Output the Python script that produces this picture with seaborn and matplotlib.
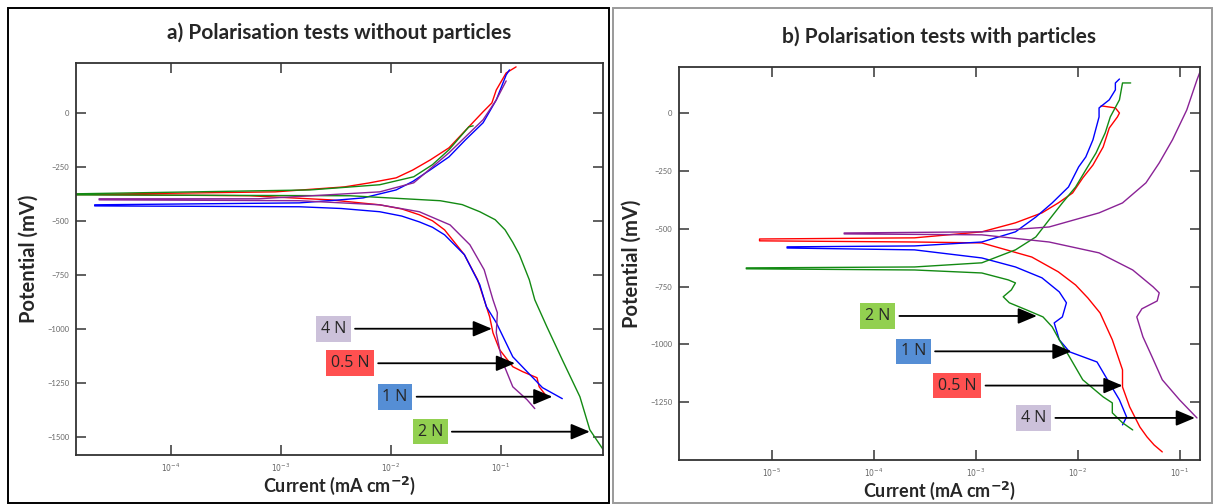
import numpy as np
import pandas as pd
import matplotlib as mpl
mpl.use('Agg')
import matplotlib.pyplot as plt
from matplotlib.patches import Rectangle
from matplotlib.ticker import FixedLocator, FixedFormatter, NullLocator
import seaborn as sns

sns.set_style('ticks')
plt.rcParams['font.family'] = ['Lato', 'DejaVu Sans']

# ---- data (log10 of current in mA cm-2, potential in mV) ----
# a) without particles
a_05N_logi = [-0.58, -0.65, -0.67, -0.80, -0.89, -1.01, -1.07, -1.10, -1.15, -1.21, -1.33, -1.51, -1.62, -1.74,
              -1.90, -2.10, -2.55, -3.28, -4.86, -4.39, -3.05, -2.42, -2.20, -1.95, -1.80, -1.64, -1.47,
              -1.29, -1.16, -1.08, -1.04, -0.95, -0.86]
a_05N_mv = [-1315, -1269, -1227, -1199, -1176, -1097, -1019, -945, -866, -773, -657, -542, -500, -472,
            -445, -426, -403, -384, -378, -375, -366, -343, -325, -301, -265, -218, -162,
            -65, 5, 46, 106, 185, 213]

a_1N_logi = [-0.44, -0.62, -0.76, -0.89, -1.04, -1.13, -1.19, -1.33, -1.51, -1.62, -1.74, -1.90, -2.10, -2.45,
             -2.83, -4.69, -4.69, -2.83, -2.46, -2.25, -1.95, -1.80, -1.64, -1.47, -1.32, -1.16, -1.04,
             -0.95, -0.92]
a_1N_mv = [-1324, -1273, -1199, -1130, -972, -898, -796, -657, -565, -530, -505, -478, -458, -443,
           -435, -431, -426, -417, -403, -394, -357, -318, -264, -204, -125, -46, 60,
           176, 199]

a_2N_logi = [-0.05, -0.19, -0.28, -0.44, -0.58, -0.69, -0.74, -0.83, -0.89, -0.96, -1.05, -1.19, -1.35, -1.55,
             -2.37, -4.86, -4.86, -2.73, -2.10, -1.79, -1.62, -1.47, -1.29, -1.25]
a_2N_mv = [-1574, -1468, -1315, -1144, -991, -866, -773, -657, -600, -542, -495, -458, -425, -407,
           -384, -380, -375, -357, -333, -296, -240, -171, -65, -60]

a_4N_logi = [-0.69, -0.76, -0.89, -0.99, -1.04, -1.03, -1.07, -1.15, -1.28, -1.46, -1.74, -2.10, -2.83, -4.65,
             -4.65, -3.20, -2.10, -1.79, -1.47, -1.32, -1.16, -1.04, -0.95]
a_4N_mv = [-1370, -1329, -1269, -1144, -1019, -926, -866, -727, -611, -519, -458, -426, -407, -403,
           -398, -398, -366, -324, -185, -111, -32, 60, 148]

# b) with particles
b_05N_logi = [-1.17, -1.25, -1.32, -1.39, -1.49, -1.56, -1.56, -1.66, -1.78, -1.90, -2.02, -2.19, -2.45, -2.94,
              -3.60, -5.12, -5.12, -3.60, -2.94, -2.61, -2.35, -2.19, -2.05, -1.95, -1.85, -1.75, -1.69,
              -1.61, -1.59, -1.63, -1.77]
b_05N_mv = [-1465, -1435, -1400, -1357, -1270, -1184, -1110, -980, -864, -799, -743, -686, -622, -561,
            -557, -552, -544, -539, -513, -474, -431, -388, -345, -280, -224, -146, -64,
            -16, 1, 23, 32]

b_1N_logi = [-1.56, -1.52, -1.59, -1.69, -1.81, -2.08, -2.18, -2.23, -2.15, -2.11, -2.18, -2.35, -2.61, -2.94,
             -3.60, -4.85, -4.85, -3.60, -2.94, -2.61, -2.41, -2.25, -2.09, -1.99, -1.92, -1.85, -1.79,
             -1.79, -1.69, -1.63, -1.63, -1.59]
b_1N_mv = [-1348, -1314, -1240, -1166, -1076, -1032, -980, -907, -881, -820, -773, -712, -665, -626,
           -591, -583, -578, -574, -557, -513, -449, -388, -319, -232, -189, -115, -16,
           23, 58, 101, 131, 148]

b_2N_logi = [-1.46, -1.56, -1.66, -1.66, -1.75, -1.95, -2.08, -2.18, -2.25, -2.34, -2.50, -2.67, -2.73, -2.65,
             -2.61, -2.68, -2.94, -3.60, -5.25, -5.25, -3.60, -2.94, -2.61, -2.41, -2.28, -2.15, -2.02,
             -1.92, -1.82, -1.73, -1.68, -1.59, -1.56, -1.48]
b_2N_mv = [-1370, -1339, -1296, -1253, -1227, -1153, -1054, -980, -924, -881, -851, -820, -794, -764,
           -734, -721, -691, -678, -673, -669, -665, -647, -591, -535, -461, -388, -319,
           -245, -172, -85, -16, 58, 131, 131]

b_4N_logi = [-0.83, -1.00, -1.17, -1.27, -1.36, -1.42, -1.37, -1.22, -1.20, -1.26, -1.46, -1.79, -2.28, -2.94,
             -4.29, -4.29, -2.94, -2.28, -1.79, -1.56, -1.33, -1.20, -1.07, -0.93, -0.83, -0.80]
b_4N_mv = [-1318, -1240, -1153, -1054, -967, -881, -846, -812, -777, -751, -678, -604, -557, -526,
           -522, -518, -513, -492, -431, -388, -301, -215, -115, 14, 144, 179]

loads = ['0.5 N', '1 N', '2 N', '4 N']
line_colors = ['#ff0000', '#0000ff', '#138a13', '#8a2296']
box_colors = ['#ff5050', '#558ed5', '#92d050', '#ccc1da']

# label arrows: (text log10 i, arrow tip log10 i, potential mV)
a_label_logi = [-2.37, -1.96, -1.64, -2.52]
a_tip_logi = [-0.87, -0.53, -0.19, -1.08]
a_label_mv = [-1160, -1315, -1477, -1000]
b_label_logi = [-3.18, -3.61, -3.96, -2.43]
b_tip_logi = [-1.56, -2.06, -2.40, -0.85]
b_label_mv = [-1178, -1030, -877, -1318]

a_xticks = [-4, -3, -2, -1]
b_xticks = [-5, -4, -3, -2, -1]
a_yticks = [0, -250, -500, -750, -1000, -1250, -1500]
b_yticks = [0, -250, -500, -750, -1000, -1250]

a_curves = [(a_05N_logi, a_05N_mv), (a_1N_logi, a_1N_mv), (a_2N_logi, a_2N_mv), (a_4N_logi, a_4N_mv)]
b_curves = [(b_05N_logi, b_05N_mv), (b_1N_logi, b_1N_mv), (b_2N_logi, b_2N_mv), (b_4N_logi, b_4N_mv)]

W, H = 1214, 504
fig = plt.figure(figsize=(W / 100, H / 100), dpi=100)

# panel frames
fig.patches.append(Rectangle((8 / W, 1 / H), 601 / W, 495 / H, transform=fig.transFigure,
                             fill=False, ec='black', lw=1.4))
fig.patches.append(Rectangle((613 / W, 1 / H), 599 / W, 495 / H, transform=fig.transFigure,
                             fill=False, ec='#9a9a9a', lw=1.4))

ax_a = fig.add_axes([76 / W, 49 / H, 527 / W, 392 / H])
ax_b = fig.add_axes([679 / W, 44 / H, 521 / W, 393 / H])


def draw_panel(ax, curves, lab_logi, tip_logi, lab_mv, xticks, yticks, xlim, ylim, title):
    for (logi, mv), col in zip(curves, line_colors):
        df = pd.DataFrame({'i': 10 ** np.array(logi), 'E': mv})
        sns.lineplot(data=df, x='i', y='E', sort=False, estimator=None, color=col, lw=1.0, ax=ax)
    ax.set_xscale('log')
    ax.set_xlim(10 ** xlim[0], 10 ** xlim[1])
    ax.set_ylim(*ylim)
    ax.xaxis.set_major_locator(FixedLocator([10.0 ** e for e in xticks]))
    ax.xaxis.set_major_formatter(FixedFormatter(['$10^{%d}$' % e for e in xticks]))
    ax.xaxis.set_minor_locator(NullLocator())
    ax.set_yticks(yticks)
    ax.tick_params(direction='in', length=7, width=1.2, color='#444444', labelsize=5.5,
                   labelcolor='#666666', top=True, right=True, pad=5)
    for s in ax.spines.values():
        s.set_linewidth(1.3)
        s.set_color('#333333')
    for k in range(len(loads)):
        ax.annotate(loads[k], xy=(10 ** tip_logi[k], lab_mv[k]), xytext=(10 ** lab_logi[k], lab_mv[k]),
                    ha='center', va='center', fontsize=11.5, family=['Open Sans', 'DejaVu Sans'],
                    bbox=dict(boxstyle='square,pad=0.3', fc=box_colors[k], ec='none'),
                    arrowprops=dict(arrowstyle='-|>,head_length=1.0,head_width=0.42', color='black',
                                    lw=1.3, shrinkA=3, shrinkB=0))
    ax.set_xlabel('Current (mA cm$^{\\mathbf{-2}}$)', fontsize=13, fontweight='bold', labelpad=0)
    ax.set_ylabel('Potential (mV)', fontsize=14.5, fontweight='bold', labelpad=6)
    ax.set_title(title, fontsize=15, fontweight='bold', pad=17)


draw_panel(ax_a, a_curves, a_label_logi, a_tip_logi, a_label_mv, a_xticks, a_yticks,
           (-4.86, -0.07), (-1585, 231), 'a) Polarisation tests without particles')
draw_panel(ax_b, b_curves, b_label_logi, b_tip_logi, b_label_mv, b_xticks, b_yticks,
           (-5.91, -0.80), (-1500, 200), 'b) Polarisation tests with particles')

fig.savefig('out.png', dpi=100)
